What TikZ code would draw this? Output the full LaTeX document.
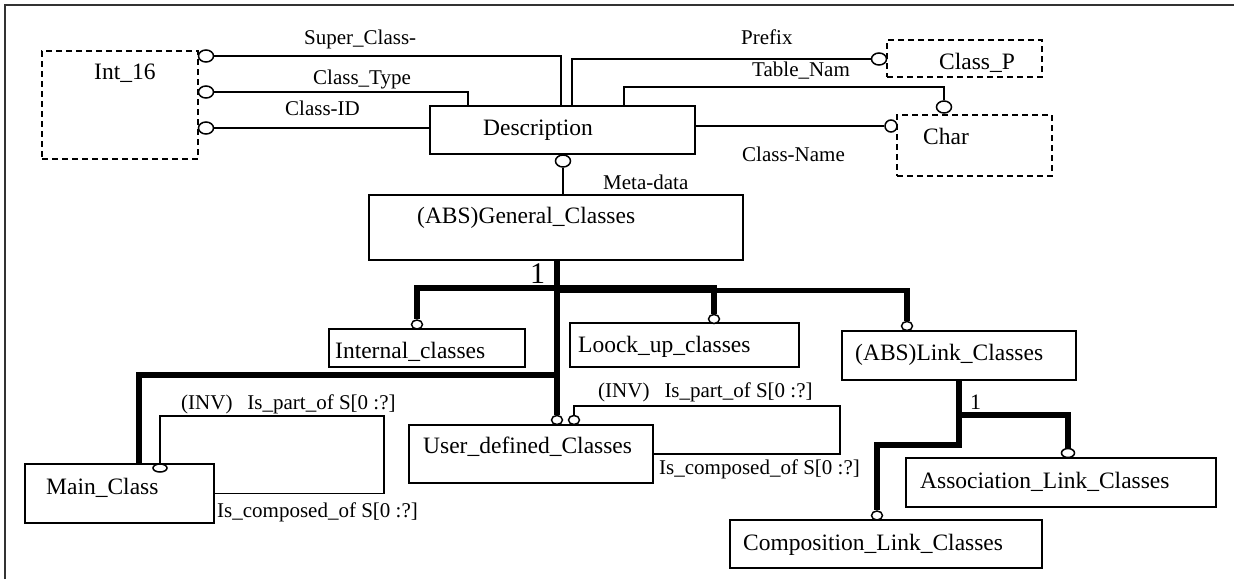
\documentclass[tikz,border=0pt]{standalone}
\usepackage{fontspec}
\setmainfont{Liberation Serif}
\usetikzlibrary{fit,shapes.geometric}
\tikzset{
  cbox/.style={draw, line width=1.7pt, inner sep=0pt},
  dbox/.style={draw, line width=1.6pt, dash pattern=on 6pt off 4pt, inner sep=0pt},
  conn/.style={line width=1.5pt},
  thk/.style={line width=5.5pt, line join=miter},
  rnd/.style={ellipse, draw, fill=white, line width=1.5pt, inner sep=0pt, minimum width=15pt, minimum height=12pt},
  rnds/.style={rnd, minimum width=11pt, minimum height=9pt},
  big/.style={font=\fontsize{23.5}{28}\selectfont, anchor=base west, inner sep=0pt},
  lbl/.style={font=\fontsize{21}{25}\selectfont, anchor=base west, inner sep=0pt},
  frame/.style={line width=1.6pt, black!80}
}
\begin{document}
\begin{tikzpicture}[x=1pt, y=-1pt]
\useasboundingbox (0,0) rectangle (1234,579);
\coordinate (f1) at (5,579);
\coordinate (f2) at (5,5);
\coordinate (f3) at (1234,5);
\draw[frame] (f1) -- (f2) -- (f3);

% boxes
\node[dbox, fit={(42,51) (198,159)}] (int16) {};
\node[dbox, fit={(887,40) (1042,77)}] (classp) {};
\node[dbox, fit={(897,115) (1052,176)}] (char) {};
\node[cbox, fit={(430,106) (695,154)}] (desc) {};
\node[cbox, fit={(369,195) (743,260)}] (gen) {};
\node[cbox, fit={(329,329) (525,367)}] (internal) {};
\node[cbox, fit={(570,323) (799,367)}] (lookup) {};
\node[cbox, fit={(842,331) (1076,380)}] (link) {};
\node[cbox, fit={(25,464) (214,523)}] (main) {};
\node[cbox, fit={(409,425) (653,483)}] (ud) {};
\node[cbox, fit={(906,458) (1216,507)}] (assoc) {};
\node[cbox, fit={(730,520) (1042,568)}] (comp) {};

% box texts
\node[big] (tint) at (94,79) {Int\_16};
\node[big] (tclassp) at (939,69) {Class\_P};
\node[big] (tchar) at (923,144) {Char};
\node[big] (tdesc) at (483,135) {Description};
\node[big] (tgen) at (417,223) {(ABS)General\_Classes};
\node[big] (tinternal) at (335,358) {Internal\_classes};
\node[big] (tlookup) at (578,352) {Loock\_up\_classes};
\node[big] (tlink) at (855,360) {(ABS)Link\_Classes};
\node[big] (tmain) at (46,494) {Main\_Class};
\node[big] (tud) at (423,453) {User\_defined\_Classes};
\node[big] (tassoc) at (920,488) {Association\_Link\_Classes};
\node[big] (tcomp) at (743,550) {Composition\_Link\_Classes};

% labels
\node[lbl] (lsc) at (304,44) {Super\_Class-};
\node[lbl] (lct) at (313,84) {Class\_Type};
\node[lbl] (lid) at (285,115) {Class-ID};
\node[lbl] (lpre) at (741,44) {Prefix};
\node[lbl] (ltn) at (752,76) {Table\_Nam};
\node[lbl] (lcn) at (742,161) {Class-Name};
\node[lbl] (lmd) at (603,189) {Meta-data};
\node[lbl, font=\fontsize{30}{34}\selectfont] (lone) at (530,283) {1};
\node[lbl, font=\fontsize{22}{26}\selectfont] (ltwo) at (970,409) {1};
\node[lbl] (lminv) at (181,409) {(INV)\hspace{15pt}Is\_part\_of S[0 :?]};
\node[lbl] (lmcomp) at (217,517) {Is\_composed\_of S[0 :?]};
\node[lbl] (luinv) at (598,397) {(INV)\hspace{15pt}Is\_part\_of S[0 :?]};
\node[lbl] (lucomp) at (659,474) {Is\_composed\_of S[0 :?]};

% circles
\node[rnd] (csc) at (206,56) {};
\node[rnd] (cct) at (206,92) {};
\node[rnd] (cid) at (206,128) {};
\node[rnd] (cp) at (879,59) {};
\node[rnd] (ctn) at (944,107) {};
\node[rnd, minimum width=12pt] (ccn) at (891,126) {};
\node[rnd] (cmd) at (563,161) {};
\node[rnds] (cint) at (417,324.5) {};
\node[rnds] (clu) at (714,319) {};
\node[rnds] (clk) at (907,326) {};
\node[rnds] (cud1) at (557,420) {};
\node[rnds] (cud2) at (574,420) {};
\node[rnds, minimum width=13pt] (cas) at (1068,453) {};
\node[rnds] (ccomp) at (877,515.5) {};
\node[rnds, minimum width=14pt, minimum height=8pt] (cm) at (160,468) {};

% thin connectors
\draw[conn] (csc.east) -| ([xshift=132pt]desc.north west);
\draw[conn] (cct.east) -| ([xshift=39pt]desc.north west);
\draw[conn] (cid.east) -- (cid.east -| desc.west);
\draw[conn] ([xshift=143pt]desc.north west) |- (cp.west);
\draw[conn] ([xshift=195pt]desc.north west) -- ++(0,-18) -| (ctn.north);
\draw[conn] (ccn.west) -- (ccn.west -| desc.east);
\draw[conn] (cmd.south) -- (cmd.south |- gen.north);

% thick tree
\coordinate (busA) at (557,288);
\coordinate (busB) at (557,290.5);
\coordinate (jm) at (557,375);
\draw[thk] (cint.north) |- (busA) -| (clu.north);
\draw[thk] (busB) -| (clk.north);
\draw[thk] (cud1.north |- gen.south) -- (cud1.north);
\draw[thk] (jm) -| ([xshift=115pt]main.north west);
\coordinate (jl) at (959,415);
\coordinate (jc) at (959,445);
\draw[thk] (link.south) -- (jl) -| (cas.north);
\draw[thk] (jl) -- (jc) -| (ccomp.north);

% self loops
\coordinate (mloop) at (384,416);
\draw[conn] (cm.north) |- (mloop) |- (main.east);
\coordinate (uloop) at (840,406);
\draw[conn] (cud2.north) |- (uloop) |- (ud.east);
\end{tikzpicture}
\end{document}
